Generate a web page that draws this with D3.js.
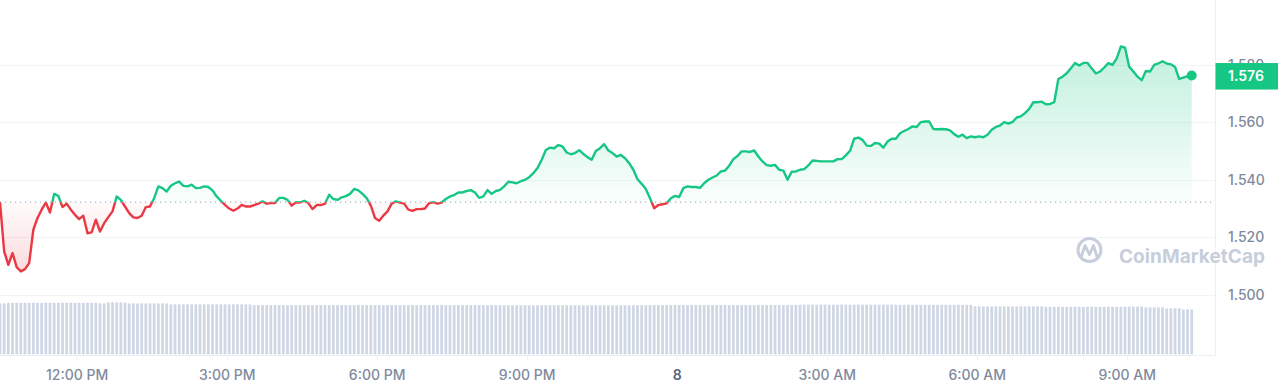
<!DOCTYPE html>
<html>
<head>
<meta charset="utf-8">
<script src="https://cdn.jsdelivr.net/npm/d3@7"></script>
<style>
  html, body { margin: 0; padding: 0; background: #fff; }
  svg { display: block; font-family: Inter, "Noto Sans", sans-serif; }
</style>
</head>
<body>
<div id="chart"></div>
<script>
/* globals d3 */

// 5 minute points, first one is the 24h reference price
const startTime = new Date(2024, 2, 7, 10, 28)
const stepMinutes = 5

const prices = [
  1.5322, 1.5151, 1.5104, 1.5145, 1.5096, 1.5081, 1.5089, 1.5110, 1.5226, 1.5267, 1.5296, 1.5321,
  1.5286, 1.5351, 1.5344, 1.5305, 1.5317, 1.5296, 1.5278, 1.5263, 1.5275, 1.5214, 1.5217, 1.5261,
  1.5220, 1.5249, 1.5270, 1.5290, 1.5342, 1.5330, 1.5307, 1.5284, 1.5269, 1.5267, 1.5275, 1.5305,
  1.5307, 1.5336, 1.5377, 1.5371, 1.5359, 1.5379, 1.5388, 1.5394, 1.5379, 1.5377, 1.5383, 1.5371,
  1.5372, 1.5377, 1.5375, 1.5363, 1.5342, 1.5327, 1.5313, 1.5300, 1.5292, 1.5300, 1.5313, 1.5307,
  1.5307, 1.5312, 1.5317, 1.5325, 1.5317, 1.5319, 1.5319, 1.5337, 1.5337, 1.5330, 1.5310, 1.5322,
  1.5321, 1.5327, 1.5319, 1.5298, 1.5312, 1.5312, 1.5317, 1.5348, 1.5333, 1.5330, 1.5339, 1.5343,
  1.5351, 1.5368, 1.5363, 1.5351, 1.5336, 1.5310, 1.5267, 1.5257, 1.5275, 1.5290, 1.5317, 1.5325,
  1.5321, 1.5317, 1.5296, 1.5292, 1.5298, 1.5298, 1.5300, 1.5319, 1.5322, 1.5317, 1.5321, 1.5333,
  1.5342, 1.5347, 1.5356, 1.5356, 1.5361, 1.5364, 1.5356, 1.5337, 1.5342, 1.5364, 1.5351, 1.5361,
  1.5365, 1.5377, 1.5393, 1.5391, 1.5388, 1.5395, 1.5400, 1.5409, 1.5423, 1.5441, 1.5470, 1.5504,
  1.5512, 1.5510, 1.5521, 1.5516, 1.5495, 1.5489, 1.5493, 1.5503, 1.5490, 1.5479, 1.5470, 1.5500,
  1.5510, 1.5524, 1.5502, 1.5493, 1.5481, 1.5487, 1.5475, 1.5458, 1.5435, 1.5402, 1.5386, 1.5368,
  1.5336, 1.5301, 1.5312, 1.5315, 1.5318, 1.5336, 1.5344, 1.5340, 1.5371, 1.5377, 1.5375, 1.5375,
  1.5372, 1.5388, 1.5400, 1.5408, 1.5415, 1.5429, 1.5432, 1.5449, 1.5472, 1.5483, 1.5499, 1.5499,
  1.5497, 1.5502, 1.5481, 1.5464, 1.5451, 1.5449, 1.5452, 1.5435, 1.5432, 1.5400, 1.5428, 1.5429,
  1.5435, 1.5437, 1.5450, 1.5467, 1.5466, 1.5464, 1.5464, 1.5464, 1.5464, 1.5472, 1.5472, 1.5485,
  1.5501, 1.5543, 1.5547, 1.5539, 1.5519, 1.5518, 1.5528, 1.5526, 1.5512, 1.5533, 1.5543, 1.5543,
  1.5562, 1.5570, 1.5577, 1.5586, 1.5584, 1.5601, 1.5603, 1.5603, 1.5577, 1.5576, 1.5577, 1.5576,
  1.5572, 1.5559, 1.5550, 1.5557, 1.5545, 1.5551, 1.5548, 1.5551, 1.5548, 1.5557, 1.5574, 1.5584,
  1.5589, 1.5601, 1.5596, 1.5601, 1.5617, 1.5621, 1.5632, 1.5647, 1.5670, 1.5670, 1.5672, 1.5663,
  1.5664, 1.5670, 1.5751, 1.5759, 1.5771, 1.5788, 1.5807, 1.5798, 1.5807, 1.5807, 1.5788, 1.5770,
  1.5777, 1.5791, 1.5806, 1.5800, 1.5823, 1.5864, 1.5860, 1.5794, 1.5777, 1.5759, 1.5747, 1.5779,
  1.5777, 1.5800, 1.5805, 1.5813, 1.5805, 1.5802, 1.5793, 1.5751, 1.5756, 1.5761, 1.5763
]

// rolling 24h volume (millions)
const volumes = [
  102.0, 102.1, 103.2, 103.1, 103.2, 103.3, 103.2, 103.2, 103.1, 103.2, 103.2, 103.3,
  103.2, 103.2, 103.1, 103.2, 103.2, 103.3, 103.2, 103.1, 103.2, 103.2, 103.2, 103.1,
  102.0, 102.1, 104.0, 104.2, 104.1, 104.0, 103.2, 102.0, 102.1, 102.0, 102.0, 102.1,
  102.0, 102.0, 102.1, 102.0, 102.0, 100.0, 100.1, 100.0, 100.0, 100.1, 100.0, 100.0,
  100.0, 100.1, 100.0, 100.0, 100.0, 100.1, 100.0, 100.0, 100.0, 100.1, 100.0, 100.0,
  100.0, 98.6, 98.6, 98.7, 98.6, 98.6, 98.6, 98.7, 98.6, 98.6, 98.6, 98.7,
  98.6, 98.6, 98.7, 98.6, 98.6, 98.6, 98.7, 98.6, 98.6, 98.6, 98.7, 98.6,
  98.6, 98.6, 98.7, 98.6, 98.6, 98.6, 98.7, 98.6, 98.6, 98.6, 98.7, 98.6,
  98.6, 98.6, 98.7, 98.6, 98.6, 98.6, 98.7, 98.6, 98.6, 98.6, 98.7, 98.6,
  98.6, 98.6, 98.7, 98.6, 98.6, 98.6, 98.7, 98.6, 98.6, 98.6, 98.7, 98.6,
  98.2, 98.2, 98.3, 98.2, 98.2, 98.2, 98.3, 98.2, 98.2, 98.2, 98.3, 98.2,
  98.2, 98.2, 98.3, 98.2, 98.2, 98.2, 98.3, 98.2, 98.2, 98.2, 98.3, 98.2,
  98.2, 98.2, 98.3, 98.2, 98.2, 98.2, 98.3, 98.2, 98.2, 98.2, 98.3, 98.2,
  98.8, 98.8, 98.9, 98.8, 98.8, 98.8, 98.9, 98.8, 98.8, 98.8, 98.9, 98.8,
  98.8, 98.8, 98.9, 98.8, 98.8, 98.8, 98.9, 98.8, 98.8, 98.8, 98.9, 98.8,
  98.8, 98.8, 98.9, 98.8, 98.8, 98.8, 98.9, 98.8, 98.8, 98.8, 98.9, 98.8,
  99.4, 99.4, 99.5, 99.4, 99.4, 99.4, 99.5, 99.4, 99.4, 99.4, 99.5, 99.4,
  99.4, 99.4, 99.5, 99.4, 99.4, 99.4, 99.5, 99.4, 99.4, 99.4, 99.5, 99.4,
  99.2, 99.2, 99.3, 99.2, 99.2, 99.2, 99.3, 99.2, 99.2, 99.2, 99.3, 99.2,
  99.2, 99.2, 99.3, 99.2, 99.2, 99.2, 96.0, 96.0, 96.1, 96.0, 96.0, 96.0,
  96.0, 96.1, 96.0, 96.0, 96.0, 96.1, 96.0, 96.0, 96.0, 96.1, 96.0, 95.2,
  95.2, 95.2, 95.3, 95.2, 95.2, 95.2, 95.3, 95.2, 95.2, 95.2, 95.3, 95.2,
  95.2, 95.2, 95.3, 95.2, 95.2, 95.2, 95.3, 95.6, 95.6, 95.7, 95.6, 94.0,
  94.0, 94.1, 94.0, 94.0, 92.0, 92.1, 92.0, 92.0, 90.0, 90.1, 90.0
]

const yTickValues = [1.50, 1.52, 1.54, 1.56, 1.58]
const priceDomain = [1.479, 1.6026]

const colors = {
  up: '#16c784',
  down: '#ea3943',
  grid: '#f1f3f6',
  border: '#eceff3',
  label: '#808a9d',
  labelStrong: '#58667e',
  volume: '#cfd6e4',
  dotted: '#a7b1c2',
  watermark: '#c6cedc'
}

const width = 1278
const height = 390
const plot = {left: 0, right: 1215.5, top: 0, bottom: 355, lineEnd: 1191.7}

const data = prices.map((p, i) => ({
  date: d3.timeMinute.offset(startTime, i * stepMinutes),
  price: p,
  volume: volumes[i]
}))
const baseValue = prices[0]
const last = data[data.length - 1]

const x = d3.scaleTime()
  .domain(d3.extent(data, d => d.date))
  .range([plot.left, plot.lineEnd])

const y = d3.scaleLinear()
  .domain(priceDomain)
  .range([plot.bottom, plot.top])

const v = d3.scaleLinear()
  .domain([0, d3.max(volumes)])
  .range([354.3, 302.3])

const svg = d3.select('#chart')
  .append('svg')
  .attr('width', width)
  .attr('height', height)

const defs = svg.append('defs')
const baseY = y(baseValue)

const upGrad = defs.append('linearGradient')
  .attr('id', 'upGrad')
  .attr('gradientUnits', 'userSpaceOnUse')
  .attr('x1', 0).attr('x2', 0)
  .attr('y1', y(d3.max(prices))).attr('y2', baseY)
upGrad.append('stop').attr('offset', 0).attr('stop-color', colors.up).attr('stop-opacity', 0.27)
upGrad.append('stop').attr('offset', 1).attr('stop-color', colors.up).attr('stop-opacity', 0.02)

const downGrad = defs.append('linearGradient')
  .attr('id', 'downGrad')
  .attr('gradientUnits', 'userSpaceOnUse')
  .attr('x1', 0).attr('x2', 0)
  .attr('y1', baseY).attr('y2', y(d3.min(prices)))
downGrad.append('stop').attr('offset', 0).attr('stop-color', colors.down).attr('stop-opacity', 0.02)
downGrad.append('stop').attr('offset', 1).attr('stop-color', colors.down).attr('stop-opacity', 0.18)

defs.append('clipPath').attr('id', 'clipUp')
  .append('rect')
  .attr('x', plot.left).attr('y', plot.top)
  .attr('width', plot.right - plot.left).attr('height', baseY - plot.top)

defs.append('clipPath').attr('id', 'clipDown')
  .append('rect')
  .attr('x', plot.left).attr('y', baseY)
  .attr('width', plot.right - plot.left).attr('height', plot.bottom - baseY)

// grid
svg.append('g').attr('class', 'grid')
  .selectAll('line')
  .data(yTickValues)
  .join('line')
  .attr('x1', plot.left).attr('x2', plot.right)
  .attr('y1', d => Math.round(y(d)) + 0.5).attr('y2', d => Math.round(y(d)) + 0.5)
  .attr('stroke', colors.grid)

svg.append('line')
  .attr('x1', plot.right).attr('x2', plot.right)
  .attr('y1', plot.top).attr('y2', plot.bottom)
  .attr('stroke', colors.border)
svg.append('line')
  .attr('x1', plot.left).attr('x2', plot.right)
  .attr('y1', plot.bottom + 0.5).attr('y2', plot.bottom + 0.5)
  .attr('stroke', colors.border)

// watermark
const wm = svg.append('g').attr('class', 'watermark')
wm.append('circle')
  .attr('cx', 1089.5).attr('cy', 250).attr('r', 11.5)
  .attr('fill', 'none').attr('stroke', colors.watermark).attr('stroke-width', 3)
wm.append('path')
  .attr('d', 'M1081.5,256 L1085,245.5 L1089.5,254.5 L1093.5,245.5 L1097,256.5')
  .attr('fill', 'none').attr('stroke', colors.watermark).attr('stroke-width', 2.8)
  .attr('stroke-linejoin', 'round').attr('stroke-linecap', 'round')
wm.append('text')
  .attr('x', 1119).attr('y', 263)
  .attr('font-size', 19).attr('font-weight', 700)
  .attr('textLength', 146)
  .attr('fill', colors.watermark)
  .text('CoinMarketCap')

// volume
const step = x(data[1].date) - x(data[0].date)
const barW = step * 0.66
svg.append('g').attr('class', 'volume')
  .selectAll('rect')
  .data(data)
  .join('rect')
  .attr('x', d => x(d.date) - barW / 2)
  .attr('y', d => v(d.volume))
  .attr('width', barW)
  .attr('height', d => v(0) - v(d.volume))
  .attr('fill', colors.volume)

// price area + line, split at the reference price
const area = d3.area()
  .x(d => x(d.date))
  .y0(baseY)
  .y1(d => y(d.price))
const line = d3.line()
  .x(d => x(d.date))
  .y(d => y(d.price))

svg.append('path').datum(data)
  .attr('clip-path', 'url(#clipUp)')
  .attr('fill', 'url(#upGrad)')
  .attr('d', area)
svg.append('path').datum(data)
  .attr('clip-path', 'url(#clipDown)')
  .attr('fill', 'url(#downGrad)')
  .attr('d', area)

svg.append('line')
  .attr('x1', plot.left).attr('x2', plot.right - 4)
  .attr('y1', baseY).attr('y2', baseY)
  .attr('stroke', colors.dotted)
  .attr('stroke-width', 1.2)
  .attr('stroke-dasharray', '1.2,3.8')

svg.append('path').datum(data)
  .attr('clip-path', 'url(#clipUp)')
  .attr('fill', 'none').attr('stroke', colors.up).attr('stroke-width', 2.4)
  .attr('stroke-linejoin', 'round')
  .attr('d', line)
svg.append('path').datum(data)
  .attr('clip-path', 'url(#clipDown)')
  .attr('fill', 'none').attr('stroke', colors.down).attr('stroke-width', 2.4)
  .attr('stroke-linejoin', 'round')
  .attr('d', line)

svg.append('circle')
  .attr('cx', x(last.date)).attr('cy', y(last.price)).attr('r', 5)
  .attr('fill', last.price >= baseValue ? colors.up : colors.down)

// y labels (1.580 sits partly under the price badge, as on the site)
svg.append('g').attr('class', 'y-labels')
  .selectAll('text')
  .data(yTickValues)
  .join('text')
  .attr('x', 1228)
  .attr('y', d => y(d))
  .attr('dy', '0.36em')
  .attr('font-size', 14).attr('font-weight', 500)
  .attr('fill', colors.label)
  .text(d => d3.format('.3f')(d))

// current price badge
const badge = svg.append('g').attr('class', 'badge')
badge.append('rect')
  .attr('x', plot.right).attr('y', y(last.price) - 12.5)
  .attr('width', width - plot.right).attr('height', 26.5)
  .attr('fill', colors.up)
badge.append('text')
  .attr('x', 1228).attr('y', y(last.price))
  .attr('dy', '0.36em')
  .attr('font-size', 14).attr('font-weight', 600)
  .attr('fill', '#fff')
  .text(d3.format('.3f')(last.price))

// time axis
const fmtHour = d3.timeFormat('%-I:%M %p')
const fmtDay = d3.timeFormat('%-d')
const isMidnight = d => d.getHours() === 0 && d.getMinutes() === 0
const xAxis = d3.axisBottom(x)
  .ticks(d3.timeHour.every(3))
  .tickFormat(d => isMidnight(d) ? fmtDay(d) : fmtHour(d))
  .tickSize(5)

const gx = svg.append('g')
  .attr('transform', 'translate(0,' + plot.bottom + ')')
  .call(xAxis)
gx.select('.domain').remove()
gx.selectAll('.tick line').attr('stroke', colors.border)
gx.selectAll('.tick text')
  .attr('y', 20).attr('dy', '0.36em')
  .attr('font-family', 'Inter, "Noto Sans", sans-serif')
  .attr('font-size', 14)
  .attr('font-weight', d => isMidnight(d) ? 600 : 500)
  .attr('fill', d => isMidnight(d) ? colors.labelStrong : colors.label)
</script>
</body>
</html>
